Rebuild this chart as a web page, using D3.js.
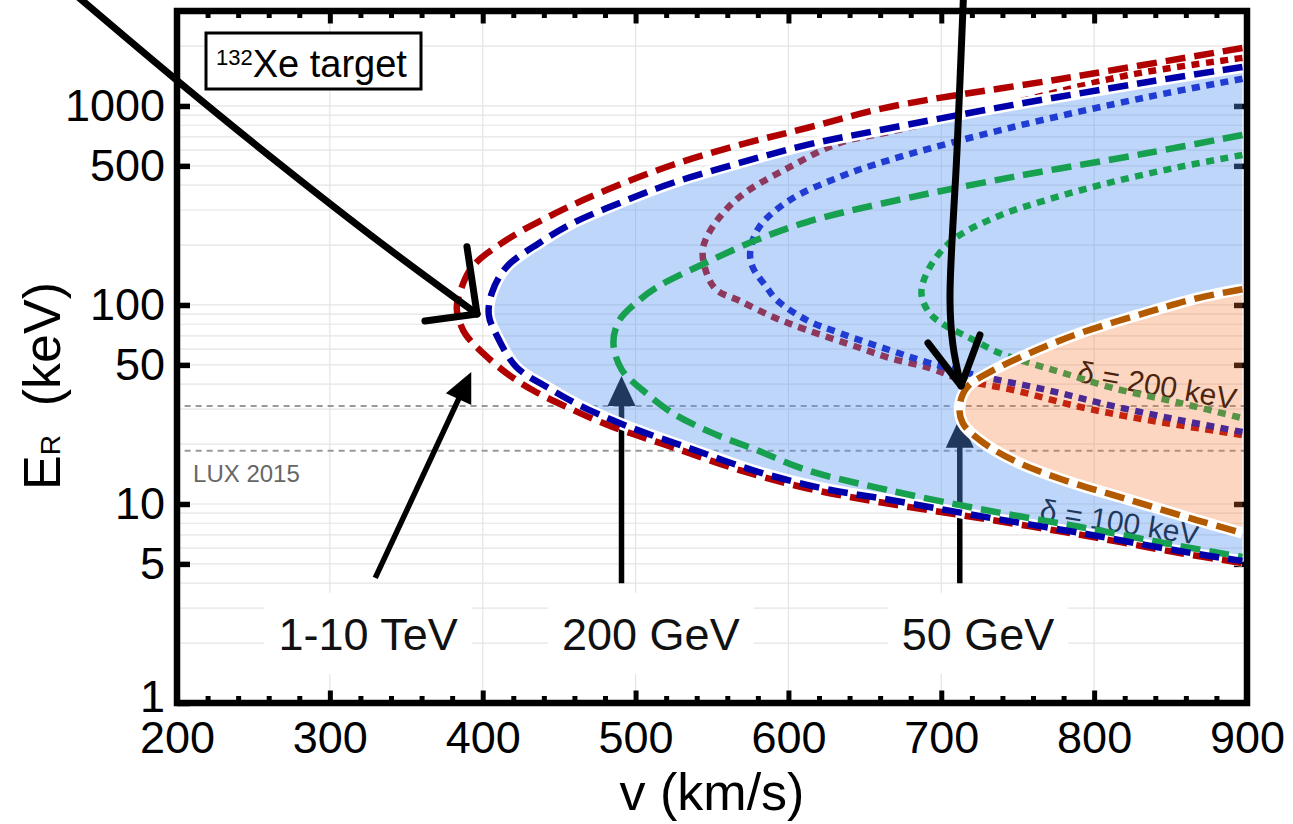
<!DOCTYPE html>
<html>
<head>
<meta charset="utf-8">
<title>Recoil energy vs. velocity</title>
<script src="https://cdn.jsdelivr.net/npm/d3@7/dist/d3.min.js"></script>
<style>
  html, body { margin: 0; padding: 0; background: #fff; }
  svg { display: block; }
</style>
</head>
<body>
<svg id="chart" width="1293" height="824"></svg>
<script>
// ---- axes -------------------------------------------------------------
const vDomain = [200, 900];                 // km/s
const eDomain = [1, 3000];                  // keV
const vTicks = [200, 300, 400, 500, 600, 700, 800, 900];
const eTicks = [1, 5, 10, 50, 100, 500, 1000];
const vGrid = [300, 400, 500, 600, 700, 800];

// ---- kinematic boundaries, [v (km/s), E_R (keV)] ----------------------
// delta = 100 keV (dashed)
const heavy100 = [[897,1955],[778,1367],[666,988],[612,775],[568,637],[524,505],[481,378],[448,290],[415.5,212],[393,155],[385,115],[383,97],[385,82],[389,70.7],[400,57.4],[415.5,45.5],[432.5,37.4],[459,29.7],[485,24.4],[524,19.3],[568,14.8],[612,12.0],[660,10.2],[725,8.5],[791,7.0],[856,5.67],[897,5.05]];
const tev100 = [[897,1570],[835,1320],[747,1012],[660,757],[612,637],[568,517],[524,410],[491,329],[459,258],[437,205],[415.5,155],[406,115],[404,89],[409,70.7],[422,48.8],[442,38.7],[463,31.4],[494,24.7],[535,19.1],[579,14.6],[622,12.0],[666,10.5],[725,8.7],[791,7.15],[856,5.8],[897,5.17]];
const gev200d100 = [[897,715],[835,580],[747,440],[660,322],[612,261],[579,212],[546,163],[514,123],[502.6,106],[489.5,84],[485.5,64.4],[491,47.2],[504.5,37.4],[524,28.7],[550.4,22.7],[579,18.7],[612,14.8],[664,11.8],[725,9.44],[791,7.66],[856,6.15],[897,5.42]];
const gev50d100 = [[897,120],[867,108],[835,92],[791,72.3],[758,57.4],[732,46.1],[717,38.7],[712,31.1],[714,25.5],[725,21.0],[747,16.6],[780,13.2],[823,10.5],[867,8.3],[897,7.15]];
// delta = 200 keV (dotted)
const heavy200 = [[897,1742],[823,1431],[747,1035],[666,740],[633.5,652],[601,494],[568,349],[550.4,247],[544,190],[546.4,145],[553,119],[568,105],[590,87],[612,74.9],[645,61.5],[666,54.2],[692.5,48.2],[714,42],[747,37.4],[791,30.7],[835,26.4],[897,22.2]];
const tev200 = [[897,1370],[835,1109],[747,784],[666,535],[633.5,440],[601,337],[581,247],[575,185],[576.6,155],[585.7,123],[592.3,106],[612,84],[633.5,72.3],[666,59.4],[692.5,51.1],[725,44],[769,37.4],[812,31.1],[856,26.4],[897,23.0]];
const gev200d200 = [[897,567],[856,494],[812,415],[769,337],[736,277],[707.5,212],[692.5,155],[687,116],[691,94],[699,82],[719,68],[738,57.4],[764.5,49.3],[780,45.5],[812,38.3],[856,32.2],[897,27.0]];

// ---- LUX 2015 window ---------------------------------------------------
const luxLevels = [31.1, 18.5];

// ---- mass annotations --------------------------------------------------
const massLabels = ["1-10 TeV", "200 GeV", "50 GeV"];
const massLabelV = [325, 510, 724];
const massLabelE = 1.85;
const arrowTail = [[329.7, 4.25], [490.8, 4.0], [712.1, 4.0]];
const arrowTip  = [[392.5, 46.1], [490.8, 44.0], [712.1, 27.1]];
const sweepHeavy = [[130.0,3823],[201.0,1324],[269.0,498],[334.1,203],[396.3,90.1]];
const sweepHeavyHead = [[362.2,83.1],[396.3,90.1],[389.7,196]];
const sweepLight = [[714.9,4199],[710.3,601],[705.7,106],[707.6,63],[712.9,39.2]];
const sweepLightHead = [[691.3,64.4],[712.9,39.2],[725.3,70.7]];

const FONT = '"Liberation Sans", Arial, Helvetica, sans-serif';
const svg = d3.select("#chart");

const x = d3.scaleLinear().domain(vDomain).range([177, 1247]);
const y = d3.scaleLog().domain(eDomain).range([703, 11]);
const X0 = x(vDomain[0]), X1 = x(vDomain[1]), Y0 = y(eDomain[0]), Y1 = y(eDomain[1]);

const line = d3.line().x(d => x(d[0])).y(d => y(d[1])).curve(d3.curveCatmullRom.alpha(0.5));

// ---- grid ----------------------------------------------------------------
const grid = svg.append("g").attr("stroke", "#e4e4e4").attr("stroke-width", 1.2);
grid.selectAll("line.gh").data(y.ticks().filter(d => d > eDomain[0] && d < eDomain[1])).join("line")
  .attr("class", "gh").attr("x1", X0).attr("x2", X1).attr("y1", d => y(d)).attr("y2", d => y(d));
grid.selectAll("line.gv").data(vGrid).join("line")
  .attr("class", "gv").attr("x1", d => x(d)).attr("x2", d => x(d)).attr("y1", Y1).attr("y2", Y0);

// ---- axes ----------------------------------------------------------------
function styleAxis(g, w) {
  g.attr("font-family", FONT).attr("font-size", 45);
  g.select(".domain").remove();
  g.selectAll(".tick line").attr("stroke", "#000").attr("stroke-width", w);
  g.selectAll(".tick text").attr("fill", "#000");
}
const vMajorInner = vTicks.filter(v => v > vDomain[0] && v < vDomain[1]);
const vMinor = d3.range(220, 900, 20).filter(v => v % 100 !== 0);

svg.append("g").attr("transform", `translate(0,${Y0})`)
  .call(d3.axisBottom(x).tickValues(vTicks).tickFormat(d3.format("d")).tickSize(0).tickPadding(18))
  .call(g => styleAxis(g, 5));
svg.append("g").attr("transform", `translate(0,${Y0})`)
  .call(d3.axisBottom(x).tickValues(vMajorInner).tickFormat("").tickSize(-12.5))
  .call(g => styleAxis(g, 5));
svg.append("g").attr("transform", `translate(0,${Y0})`)
  .call(d3.axisBottom(x).tickValues(vMinor).tickFormat("").tickSize(-7))
  .call(g => styleAxis(g, 5));
svg.append("g").attr("transform", `translate(0,${Y1})`)
  .call(d3.axisTop(x).tickValues(vMajorInner).tickFormat("").tickSize(-12.5))
  .call(g => styleAxis(g, 5));
svg.append("g").attr("transform", `translate(0,${Y1})`)
  .call(d3.axisTop(x).tickValues(vMinor).tickFormat("").tickSize(-7))
  .call(g => styleAxis(g, 5));
svg.append("g").attr("transform", `translate(${X0},0)`)
  .call(d3.axisLeft(y).tickValues(eTicks).tickFormat(d3.format("d")).tickSize(-13).tickPadding(12))
  .call(g => styleAxis(g, 5.5))
  // lowest label sits just above the velocity labels
  .call(g => g.selectAll(".tick text").filter(d => d === 1).attr("dy", "0.18em"));
svg.append("g").attr("transform", `translate(${X1},0)`)
  .call(d3.axisRight(y).tickValues(eTicks.filter(d => d > 1)).tickFormat("").tickSize(-13))
  .call(g => styleAxis(g, 5.5));

// axis titles
const yTitle = svg.append("text")
  .attr("transform", "translate(60,386) rotate(-90)")
  .attr("text-anchor", "middle").attr("font-family", FONT).attr("fill", "#000");
yTitle.append("tspan").attr("font-size", 52).text("E");
yTitle.append("tspan").attr("font-size", 28).text("R");
yTitle.append("tspan").attr("font-size", 52).text("\u00a0\u00a0(keV)");
svg.append("text").attr("x", (X0 + X1) / 2).attr("y", 810)
  .attr("text-anchor", "middle").attr("font-family", FONT).attr("font-size", 52)
  .attr("fill", "#000").text("v (km/s)");

// ---- LUX 2015 -----------------------------------------------------------
svg.append("g").selectAll("line").data(luxLevels).join("line")
  .attr("x1", x(205)).attr("x2", X1).attr("y1", d => y(d)).attr("y2", d => y(d))
  .attr("stroke", "#999").attr("stroke-width", 2).attr("stroke-dasharray", "6,5");
svg.append("text").attr("x", x(210.5)).attr("y", y(12.9))
  .attr("font-family", FONT).attr("font-size", 24).attr("fill", "#666").text("LUX 2015");

// ---- mass labels (on white boxes) ---------------------------------------
const lab = svg.append("g");
massLabels.forEach((t, i) => {
  const gg = lab.append("g");
  const rect = gg.append("rect").attr("fill", "#fff");
  const tx = gg.append("text").attr("x", x(massLabelV[i])).attr("y", y(massLabelE))
    .attr("text-anchor", "middle").attr("font-family", FONT).attr("font-size", 45)
    .attr("fill", "#111").text(t);
  const b = tx.node().getBBox();
  rect.attr("x", b.x - 14).attr("y", b.y - 16).attr("width", b.width + 28).attr("height", b.height + 30);
});

// ---- straight arrows ------------------------------------------------------
const arr = svg.append("g");
arrowTail.forEach((t, i) => {
  const p0 = [x(t[0]), y(t[1])], p1 = [x(arrowTip[i][0]), y(arrowTip[i][1])];
  const dx = p1[0] - p0[0], dy = p1[1] - p0[1], L = Math.hypot(dx, dy);
  const ux = dx / L, uy = dy / L, hl = 30, hw = 14;
  const bx = p1[0] - ux * hl, by = p1[1] - uy * hl;
  arr.append("line").attr("x1", p0[0]).attr("y1", p0[1]).attr("x2", bx + ux * 3).attr("y2", by + uy * 3)
    .attr("stroke", "#000").attr("stroke-width", 5.5);
  arr.append("path")
    .attr("d", `M${p1[0]},${p1[1]}L${bx - uy * hw},${by + ux * hw}L${bx + uy * hw},${by - ux * hw}Z`)
    .attr("fill", "#000");
});

// ---- delta labels -------------------------------------------------------
svg.append("text").attr("transform", `translate(${x(841.1)},${y(39.6)}) rotate(10)`)
  .attr("text-anchor", "middle").attr("dominant-baseline", "central")
  .attr("font-family", FONT).attr("font-size", 30).attr("fill", "#000").text("\u03b4 = 200 keV");
svg.append("text").attr("transform", `translate(${x(816.9)},${y(8.12)}) rotate(9)`)
  .attr("text-anchor", "middle").attr("dominant-baseline", "central")
  .attr("font-family", FONT).attr("font-size", 30).attr("fill", "#000").text("\u03b4 = 100 keV");

// ---- curves -------------------------------------------------------------
const DASH = "20,9", DOT = "8,6.5";
function curve(data, color, dash, w = 6.5) {
  return svg.append("path").attr("d", line(data)).attr("fill", "none")
    .attr("stroke", color).attr("stroke-width", w).attr("stroke-dasharray", dash);
}

curve(heavy200, "#b00000", DOT);
curve(tev200, "#0008bf", DOT);

// region reachable for 1 TeV, delta = 100 keV (minus the 50 GeV region)
svg.append("path").attr("d", line(tev100) + "Z" + line(gev50d100) + "Z")
  .attr("fill", "rgb(84,147,242)").attr("fill-opacity", 0.38).attr("fill-rule", "evenodd");

curve(gev200d200, "#16a050", DOT);

// region reachable for 50 GeV, delta = 100 keV
svg.append("path").attr("d", line(gev50d100) + "Z")
  .attr("fill", "rgb(245,120,50)").attr("fill-opacity", 0.3);

// white halos on region boundaries
svg.append("path").attr("d", line(tev100)).attr("fill", "none").attr("stroke", "#fff").attr("stroke-width", 11.5);
svg.append("path").attr("d", line(gev50d100)).attr("fill", "none").attr("stroke", "#fff").attr("stroke-width", 11.5);

curve(gev200d100, "#16a050", DASH);
curve(heavy100, "#b00000", DASH);
curve(tev100, "#0000aa", DASH);
curve(gev50d100, "#b35900", DASH);

// ---- frame --------------------------------------------------------------
svg.append("rect").attr("x", X0).attr("y", Y1).attr("width", X1 - X0).attr("height", Y0 - Y1)
  .attr("fill", "none").attr("stroke", "#000").attr("stroke-width", 6.5);

// ---- target box ---------------------------------------------------------
svg.append("rect").attr("x", 206).attr("y", 33).attr("width", 215).attr("height", 56)
  .attr("fill", "#fff").attr("stroke", "#000").attr("stroke-width", 3);
const tgt = svg.append("text").attr("x", 216).attr("y", 77).attr("font-family", FONT).attr("fill", "#000");
tgt.append("tspan").attr("font-size", 22).attr("dy", -12).text("132");
tgt.append("tspan").attr("font-size", 38).attr("dy", 12).text("Xe target");

// ---- sweeping arrows ----------------------------------------------------
const sweep = svg.append("g").attr("fill", "none").attr("stroke", "#000")
  .attr("stroke-width", 7).attr("stroke-linecap", "round").attr("stroke-linejoin", "round");
const straight = d3.line().x(d => x(d[0])).y(d => y(d[1]));
sweep.append("path").attr("d", line(sweepHeavy));
sweep.append("path").attr("d", straight(sweepHeavyHead));
sweep.append("path").attr("d", line(sweepLight));
sweep.append("path").attr("d", straight(sweepLightHead));
</script>
</body>
</html>
